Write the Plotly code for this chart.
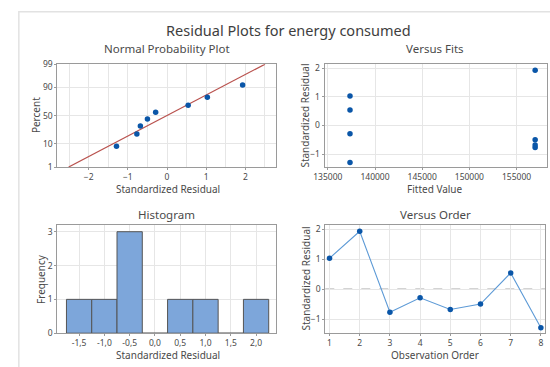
import plotly.graph_objects as go
from plotly.subplots import make_subplots
from statistics import NormalDist, mean, stdev

# ---- data ----
observation_order = [1, 2, 3, 4, 5, 6, 7, 8]
std_residuals = [1.03, 1.93, -0.77, -0.29, -0.68, -0.50, 0.54, -1.29]
fitted_values = [137350, 156970, 156970, 137350, 156970, 156970, 137350, 137350]
prob_percent = [8.3, 20.2, 32.1, 44.0, 56.0, 67.9, 79.8, 91.7]  # median ranks of sorted residuals
hist_centers = [-1.5, -1.0, -0.5, 0.0, 0.5, 1.0, 1.5, 2.0]
hist_counts = [1, 1, 3, 0, 1, 1, 0, 1]
hist_labels = ["-1,5", "-1,0", "-0,5", "0,0", "0,5", "1,0", "1,5", "2,0"]
pct_ticks = [1, 10, 50, 90, 99]

W, H = 550, 367
def px(x): return x / W
def py(y): return 1 - y / H

nd = NormalDist()
FONT = "Noto Sans"
TXT = "#4a4a4a"
MARK = "#0a56a8"
GRID = "#e6e6e6"
AX = "#9a9a9a"

fig = make_subplots(rows=2, cols=2)

# Normal probability plot
sorted_res = sorted(std_residuals)
zvals = [nd.inv_cdf(p / 100) for p in prob_percent]
mu, sd = mean(std_residuals), stdev(std_residuals)
zlo, zhi = nd.inv_cdf(0.01), nd.inv_cdf(0.99)
fig.add_trace(go.Scatter(x=[mu + zlo * sd, mu + zhi * sd], y=[zlo, zhi], mode="lines",
                         line=dict(color="#b9524e", width=1.2)), row=1, col=1)
fig.add_trace(go.Scatter(x=sorted_res, y=zvals, mode="markers",
                         marker=dict(color=MARK, size=5.5)), row=1, col=1)

# Versus fits
fig.add_trace(go.Scatter(x=fitted_values, y=std_residuals, mode="markers",
                         marker=dict(color=MARK, size=5.5)), row=1, col=2)

# Histogram
fig.add_trace(go.Bar(x=hist_centers, y=hist_counts, width=0.5,
                     marker=dict(color="#7da6da", line=dict(color="#555555", width=1))), row=2, col=1)

# Versus order
fig.add_trace(go.Scatter(x=observation_order, y=std_residuals, mode="lines+markers",
                         line=dict(color="#5d9ad6", width=1.1),
                         marker=dict(color=MARK, size=5.5)), row=2, col=2)

axcommon = dict(showline=True, mirror=True, linecolor=AX, linewidth=1, gridcolor=GRID,
                zeroline=False, ticks="outside", ticklen=2, tickcolor=AX,
                tickfont=dict(family=FONT, size=8.5, color=TXT))

fig.update_layout(
    xaxis=dict(axcommon, domain=[px(47.3), px(270.7)], range=[-2.8, 2.79],
               tickvals=[-2, -1, 0, 1, 2], minor=dict(dtick=0.5, tick0=0, showgrid=True, gridcolor=GRID)),
    yaxis=dict(axcommon, domain=[py(166), py(60)], range=[zlo, zhi],
               tickvals=[nd.inv_cdf(p / 100) for p in pct_ticks], ticktext=[str(p) for p in pct_ticks]),
    xaxis2=dict(axcommon, domain=[px(320), px(546.5)], range=[134660, 158180],
                tickvals=[135000, 140000, 145000, 150000, 155000], ticktext=["135000", "140000", "145000", "150000", "155000"]),
    yaxis2=dict(axcommon, domain=[py(166), py(60)], range=[-1.45, 2.14], tickvals=[-1, 0, 1, 2]),
    xaxis3=dict(axcommon, domain=[px(47.3), px(270.7)], range=[-1.93, 2.40],
                tickvals=hist_centers, ticktext=hist_labels),
    yaxis3=dict(axcommon, domain=[py(337.3), py(225.7)], range=[0, 3.2], tickvals=[0, 1, 2, 3]),
    xaxis4=dict(axcommon, domain=[px(320.7), px(545)], range=[0.86, 8.14], tickvals=observation_order),
    yaxis4=dict(axcommon, domain=[py(337.3), py(225.7)], range=[-1.47, 2.14], tickvals=[-1, 0, 1, 2]),
    width=W, height=H, margin=dict(l=0, r=0, t=0, b=0),
    plot_bgcolor="white", paper_bgcolor="white", showlegend=False,
    font=dict(family=FONT, color=TXT),
)

# zero reference lines
for xr, yr in [("x2 domain", "y2"), ("x4 domain", "y4")]:
    fig.add_shape(type="line", xref=xr, yref=yr, x0=0, x1=1, y0=0, y1=0,
                  line=dict(color="#a8a8a8", width=1.2, dash="dash"), layer="below")

# outer frame
fig.add_shape(type="rect", xref="paper", yref="paper", x0=px(8), x1=px(600), y0=py(420), y1=py(6),
              line=dict(color="#e2e2e2", width=1.5))

def ann(text, x, y, size, angle=0, color=TXT):
    fig.add_annotation(text=text, x=px(x), y=py(y), xref="paper", yref="paper", showarrow=False,
                       textangle=angle, font=dict(family=FONT, size=size, color=color),
                       xanchor="center", yanchor="middle")

ann("Residual Plots for energy consumed", 283, 25, 14.5, color="#3e3e3e")
ann("Normal Probability Plot", 159, 44, 11.5)
ann("Versus Fits", 433, 44, 11.5)
ann("Histogram", 159, 215, 11.5)
ann("Versus Order", 433, 215, 11.5)
ann("Standardized Residual", 160, 189, 10)
ann("Fitted Value", 433, 189, 10)
ann("Standardized Residual", 160, 360, 10)
ann("Observation Order", 433, 360, 10)
ann("Percent", 25, 113, 10, -90)
ann("Standardized Residual", 300, 113, 10, -90)
ann("Frequency", 30, 281, 10, -90)
ann("Standardized Residual", 301, 281, 10, -90)

fig.write_html("out.html")
